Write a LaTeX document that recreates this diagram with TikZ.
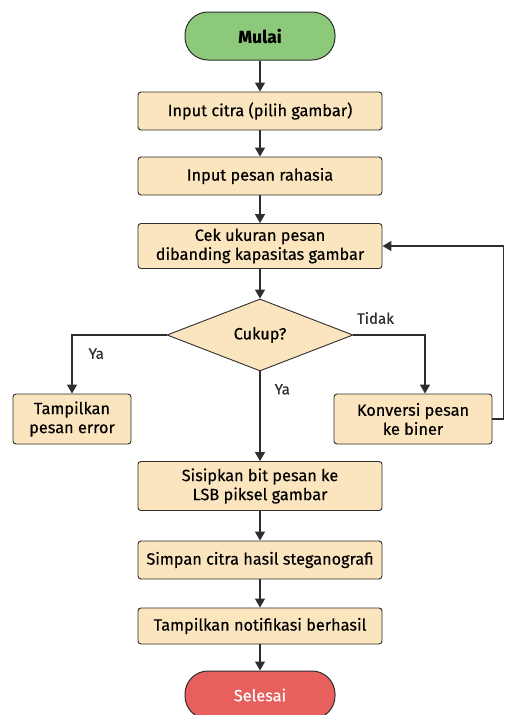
\documentclass[tikz,border=0pt]{standalone}
\usepackage{fontspec}
\setmainfont{Fira Sans}[FakeBold=0.3]
\usepackage{xcolor}
\usetikzlibrary{arrows.meta, positioning, shapes.geometric, calc}

\definecolor{boxfill}{HTML}{FBE5BE}
\definecolor{startfill}{HTML}{8CC97A}
\definecolor{endfill}{HTML}{E8605D}
\definecolor{edge}{HTML}{2E2E2E}

\begin{document}
\begin{tikzpicture}[
    x=1pt, y=-1pt,
    font=\fontsize{16.3}{19}\selectfont,
    every node/.style={inner sep=2pt},
    terminal/.style={draw=edge, line width=1pt, rounded corners=23pt, minimum width=150pt,
                     minimum height=48pt, align=center},
    process/.style={draw=edge, line width=0.9pt, rounded corners=3pt, fill=boxfill,
                    minimum width=244pt, minimum height=38pt, align=center},
    decision/.style={draw=edge, line width=0.9pt, diamond, fill=boxfill, inner sep=0pt,
                     minimum width=186pt, minimum height=72pt, align=center},
    flow/.style={-{Triangle[length=9pt, width=10pt]}, line width=1.3pt, edge},
    edgelbl/.style={font=\fontsize{15}{17}\selectfont, text=edge},
]
\useasboundingbox (0,0) rectangle (504,715);
\fill[white] (0,0) rectangle (504,715);

% --------- Main column ----------
\node[terminal, fill=startfill] (mulai)   at (260, 36)  {\textbf{\fontsize{17.5}{20}\selectfont Mulai}};
\node[process]                  (citra)   at (260, 111) {Input citra (pilih gambar)};
\node[process]                  (pesan)   at (260, 176) {Input pesan rahasia};
\node[process, minimum height=45pt] (cek) at (260, 246) {Cek ukuran pesan\\dibanding kapasitas gambar};
\node[decision]                 (cukup)   at (260, 335) {Cukup?};

% --------- Branches ----------
\node[process, minimum width=118pt, minimum height=50pt] (error)    at (72, 419)  {Tampilkan\\pesan error};
\node[process, minimum width=158pt, minimum height=50pt] (konversi) at (413, 419) {Konversi pesan\\ke biner};

% --------- Lower column ----------
\node[process, minimum height=49pt] (sisip)  at (260, 486) {Sisipkan bit pesan ke\\LSB piksel gambar};
\node[process]                  (simpan)  at (260, 560) {Simpan citra hasil steganografi};
\node[process, minimum height=36pt] (notif) at (260, 626) {Tampilkan notifikasi berhasil};
\node[terminal, fill=endfill, text=white] (selesai) at (260, 695) {Selesai};

% Arrows along the main column
\draw[flow] (mulai)  -- (citra);
\draw[flow] (citra)  -- (pesan);
\draw[flow] (pesan)  -- (cek);
\draw[flow] (cek)    -- (cukup);
\draw[flow] (cukup)  -- node[edgelbl, pos=0.2, right=12pt]{Ya} (sisip);
\draw[flow] (sisip)  -- (simpan);
\draw[flow] (simpan) -- (notif);
\draw[flow] (notif)  -- (selesai);

% Decision branches
\draw[flow] (cukup.west) -| node[edgelbl, pos=0.66, right=14pt]{Ya} (error.north);
\draw[flow] (cukup.east) -| ($(konversi.north)+(12,0)$);
\node[edgelbl] (tidak) at ($(cukup.east)+(22,-17)$) {Tidak};

% Loop back to the size check
\draw[flow] (konversi.east) -- ++(11,0) |- (cek.east);

\end{tikzpicture}
\end{document}
